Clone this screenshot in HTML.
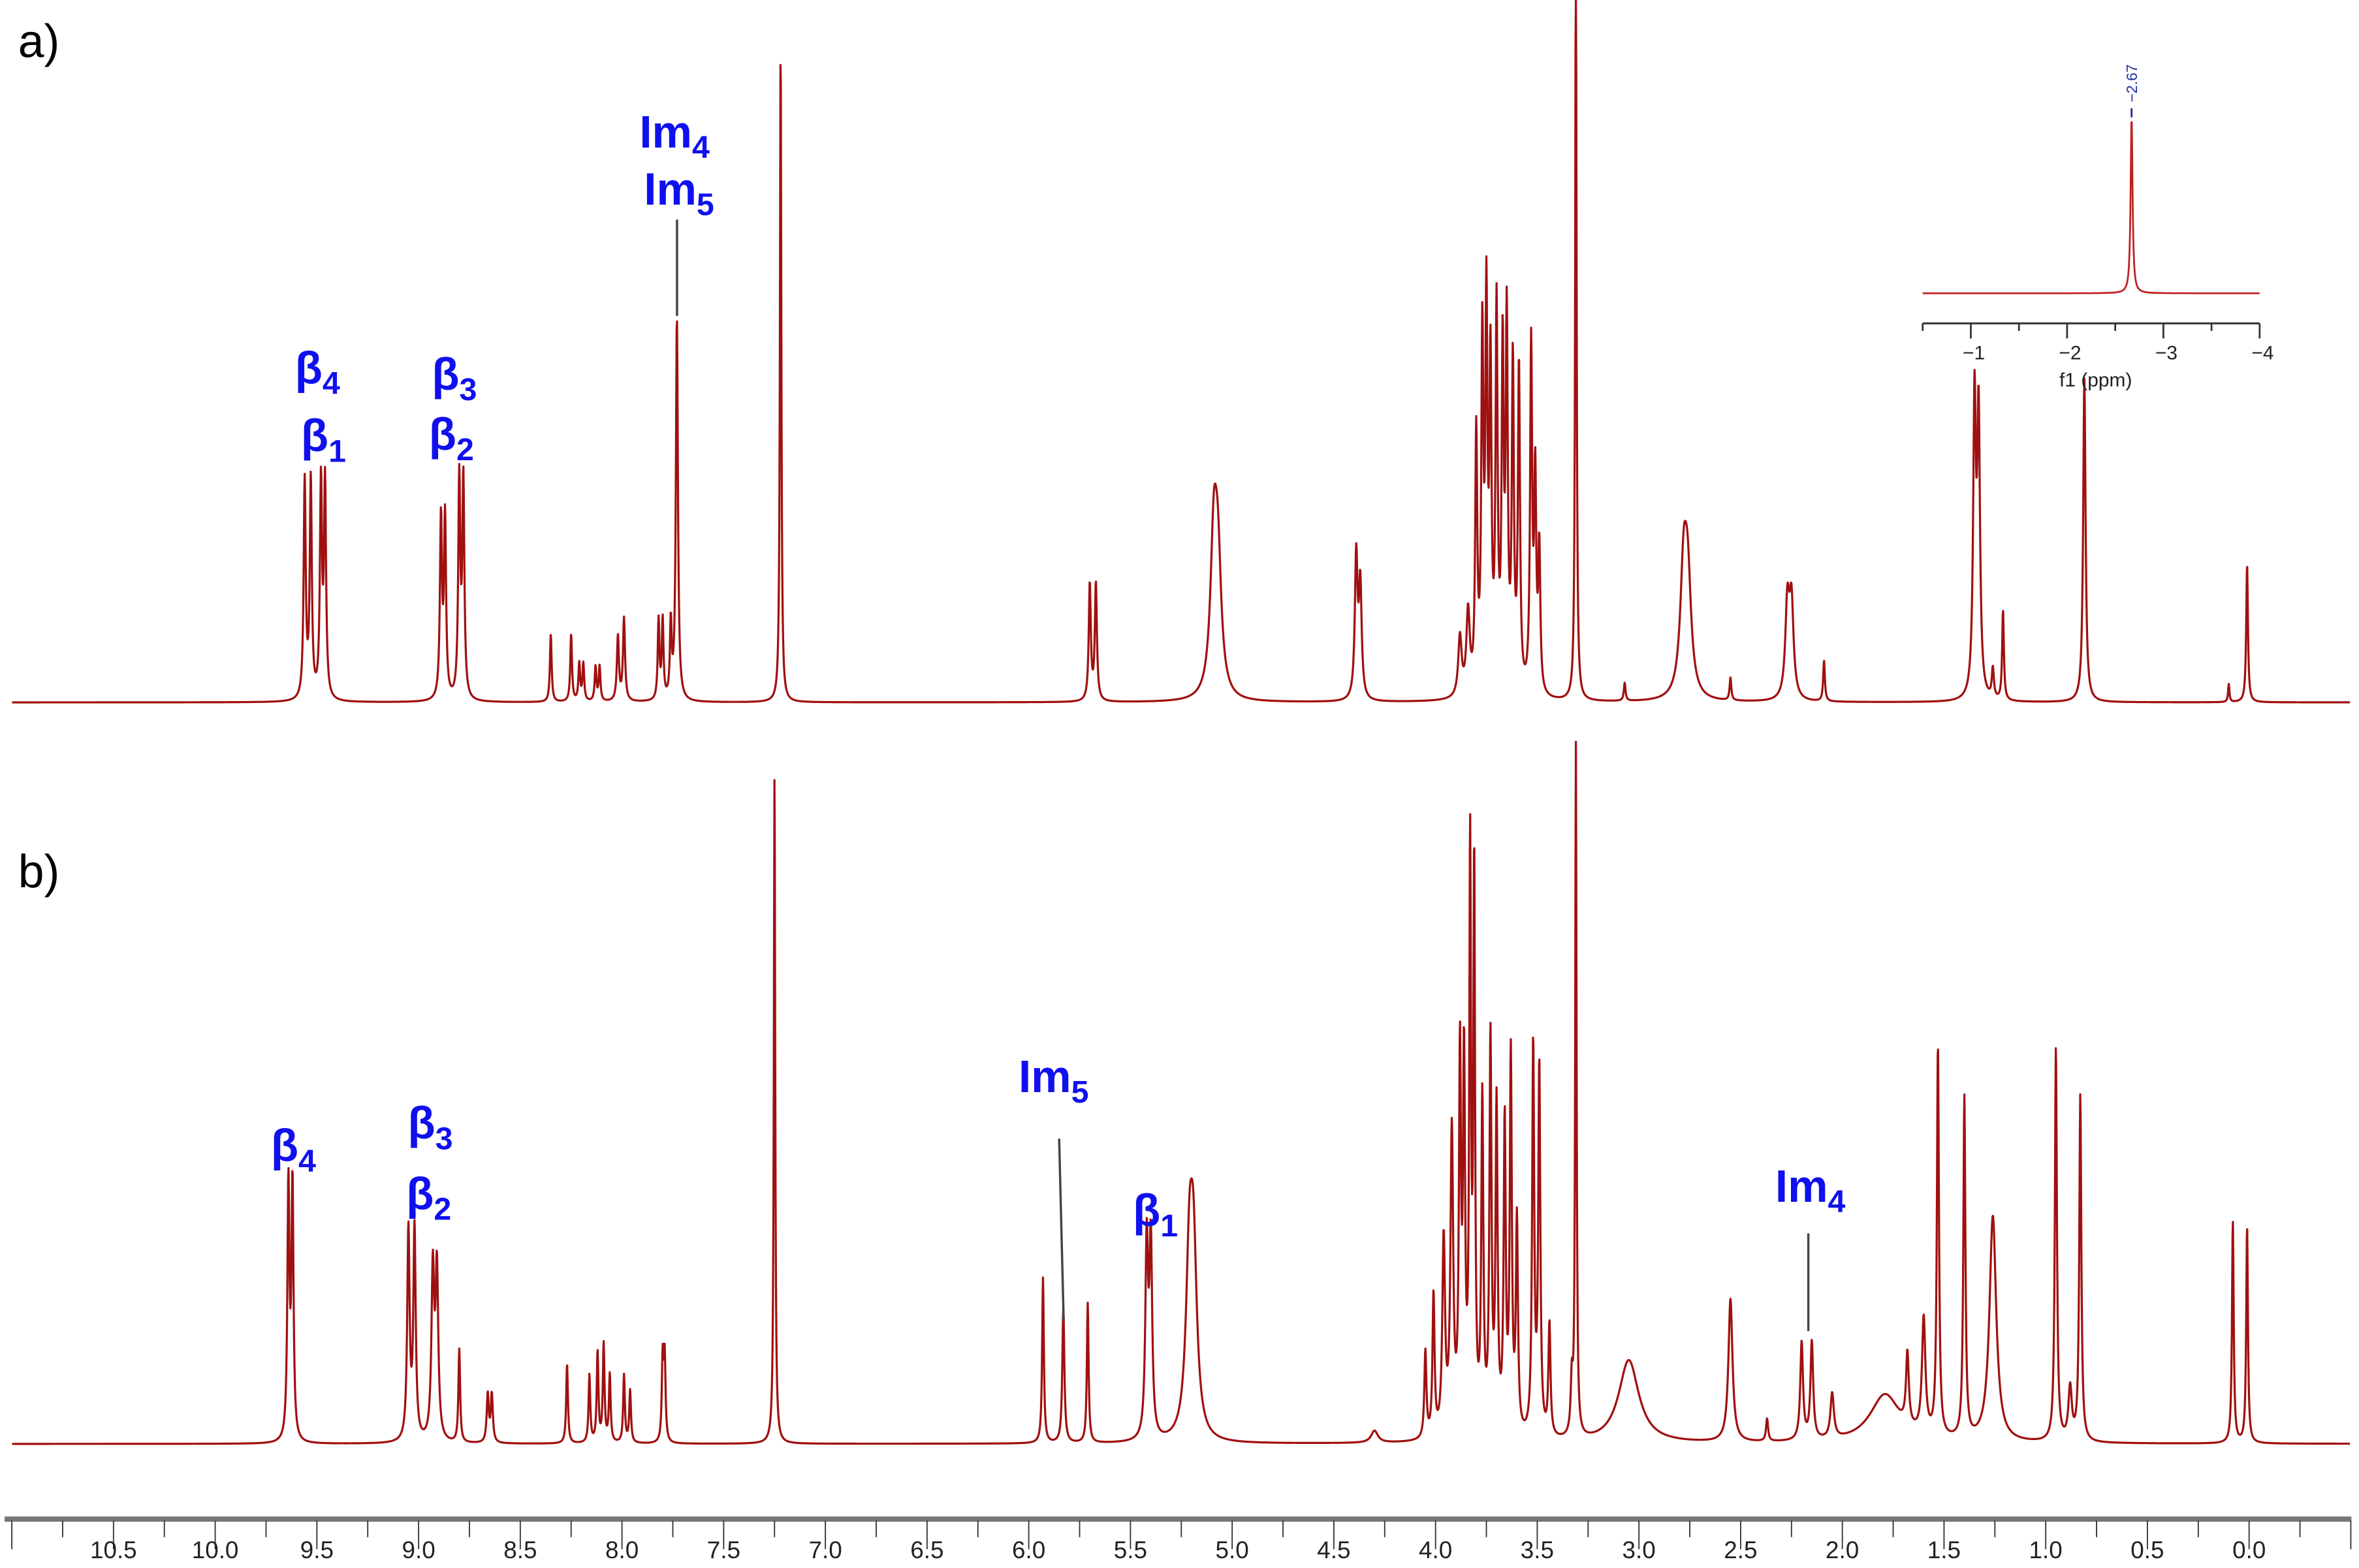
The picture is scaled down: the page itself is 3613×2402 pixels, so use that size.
<!DOCTYPE html>
<html><head><meta charset="utf-8"><style>
html,body{margin:0;padding:0;background:#fff}
svg{display:block}
text{font-family:"Liberation Sans",sans-serif}
.lab{fill:#1010ee;font-weight:bold;font-size:30px}
</style></head><body>
<svg id="chart" width="3613" height="2402" viewBox="0 0 1568 1042.5" xmlns="http://www.w3.org/2000/svg">
<g id="axis"></g>
<g id="specA"></g>
<g id="specB"></g>
<g id="inset"></g>
<text x="12" y="38" font-size="31">a)</text>
<text x="12" y="590" font-size="31">b)</text>
<g>
<text class="lab" x="425" y="98">Im<tspan font-size="21" dy="7">4</tspan></text>
<text class="lab" x="428" y="136">Im<tspan font-size="21" dy="7">5</tspan></text>
<line x1="450" y1="146" x2="450" y2="210" stroke="#444" stroke-width="1.5"/>
<text class="lab" x="196" y="255">β<tspan font-size="21" dy="7">4</tspan></text>
<text class="lab" x="200" y="300">β<tspan font-size="21" dy="7">1</tspan></text>
<text class="lab" x="287" y="259">β<tspan font-size="21" dy="7">3</tspan></text>
<text class="lab" x="285" y="299">β<tspan font-size="21" dy="7">2</tspan></text>
</g>
<g>
<text class="lab" x="180" y="772">β<tspan font-size="21" dy="7">4</tspan></text>
<text class="lab" x="271" y="757">β<tspan font-size="21" dy="7">3</tspan></text>
<text class="lab" x="270" y="804">β<tspan font-size="21" dy="7">2</tspan></text>
<text class="lab" x="677" y="726">Im<tspan font-size="21" dy="7">5</tspan></text>
<line x1="704" y1="757" x2="707" y2="878" stroke="#444" stroke-width="1.5"/>
<text class="lab" x="753" y="815">β<tspan font-size="21" dy="7">1</tspan></text>
<text class="lab" x="1180" y="799">Im<tspan font-size="21" dy="7">4</tspan></text>
<line x1="1202" y1="820" x2="1202" y2="885" stroke="#444" stroke-width="1.5"/>
</g>
</svg>
<script>
// panel a peaks: ppm, height (px above baseline), half width (ppm)
const aPpm = [9.56,9.53,9.48,9.46,8.89,8.87,8.80,8.78,8.35,8.25,8.21,8.19,8.13,8.11,8.02,7.99,7.82,7.80,7.76,7.73,7.22,5.70,5.67,5.09,5.07,4.39,4.37,3.88,3.84,3.80,3.77,3.75,3.73,3.70,3.67,3.65,3.62,3.59,3.53,3.51,3.49,3.31,3.07,2.78,2.76,2.55,2.27,2.25,2.09,1.35,1.33,1.26,1.21,0.81,0.10,0.01];
const aH   = [145,145,143,143,120,120,145,145,45,45,25,25,23,23,43,55,53,53,50,255,440,78,78,100,80,95,75,40,55,170,230,250,210,250,220,240,215,215,230,140,95,520,12,80,70,15,62,62,27,195,185,20,60,215,12,92];
const aW   = [.006,.006,.006,.006,.006,.006,.006,.006,.005,.005,.005,.005,.005,.005,.006,.006,.005,.005,.005,.006,.004,.006,.006,.02,.02,.008,.008,.01,.01,.006,.006,.006,.006,.006,.006,.006,.006,.006,.006,.006,.006,.004,.005,.02,.02,.005,.012,.012,.005,.008,.008,.006,.005,.007,.004,.005];
// panel b peaks
const bPpm = [9.64,9.62,9.05,9.02,8.93,8.91,8.80,8.66,8.64,8.27,8.16,8.12,8.09,8.06,7.99,7.96,7.80,7.79,7.25,5.93,5.83,5.71,5.42,5.40,5.21,5.19,4.30,4.05,4.01,3.96,3.92,3.88,3.86,3.83,3.81,3.77,3.73,3.70,3.66,3.63,3.60,3.52,3.49,3.44,3.33,3.31,3.05,2.55,2.37,2.20,2.15,2.05,1.79,1.68,1.60,1.53,1.40,1.26,0.95,0.88,0.83,0.08,0.01];
const bH   = [170,170,140,140,112,112,62,32,32,53,45,60,65,45,45,35,55,55,445,110,90,93,130,130,110,110,8,58,95,130,200,245,240,380,370,220,260,215,205,250,140,260,245,75,35,460,55,95,15,65,65,30,32,48,77,260,227,150,262,35,230,148,145];
const bW   = [.006,.006,.007,.007,.008,.008,.005,.006,.006,.005,.005,.005,.005,.005,.005,.005,.005,.005,.004,.005,.006,.005,.008,.008,.02,.02,.02,.006,.006,.008,.008,.006,.006,.005,.005,.006,.006,.006,.006,.006,.006,.006,.006,.006,.006,.004,.06,.012,.006,.008,.008,.01,.09,.008,.01,.006,.006,.02,.006,.01,.006,.005,.005];
// x axis ticks
const tickLabels = ["10.5","10.0","9.5","9.0","8.5","8.0","7.5","7.0","6.5","6.0","5.5","5.0","4.5","4.0","3.5","3.0","2.5","2.0","1.5","1.0","0.5","0.0"];
// inset
const insetPeakPpm = [-2.67];
const insetPeakH = [117];
const insetTicks = ["−1","−2","−3","−4"];

const NS="http://www.w3.org/2000/svg";
const xs = p => 1495 - p*135.2;
function mk(tag,attrs,parent){const e=document.createElementNS(NS,tag);for(const k in attrs)e.setAttribute(k,attrs[k]);parent.appendChild(e);return e;}

function spectrum(g,ppm,H,W,base,name){
  let d="";
  for(let x=8;x<=1562;x+=0.25){
    const p=(1495-x)/135.2;let y=0;
    for(let i=0;i<ppm.length;i++){const u=(p-ppm[i])/W[i];y+=H[i]/(1+u*u);}
    let yy=Math.max(base-y,0);
    d+=(d?"L":"M")+x.toFixed(2)+" "+yy.toFixed(2);
  }
  const pth=mk("path",{d:d,fill:"none",stroke:"#a01010","stroke-width":1.4,"stroke-linejoin":"round"},g);
  
  
}
spectrum(document.getElementById("specA"),aPpm,aH,aW,467,"spectrum-a-line");
spectrum(document.getElementById("specB"),bPpm,bH,bW,960,"spectrum-b-line");

// axis
const ax=document.getElementById("axis");
mk("line",{x1:3,y1:1010,x2:1563,y2:1010,stroke:"#777","stroke-width":3.5},ax);
for(let k=-2;k<=45;k++){
  const p=10.5-k*0.25;const x=xs(p);
  if(x<5||x>1563)continue;
  const major=(k%2===0);
  mk("line",{x1:x,y1:1011,x2:x,y2:major?1030:1022,stroke:"#333","stroke-width":0.8},ax);
}
tickLabels.forEach(t=>{
  const x=xs(parseFloat(t));
  const el=mk("text",{x:x,y:1036,"text-anchor":"middle","font-size":16,fill:"#222"},ax);
  el.textContent=t;
  
  
});

// inset
const ig=document.getElementById("inset");
const ix = p => 1278 + (-p-0.5)*64;
const ib=195;
let d="";
for(let x=1278;x<=1502;x+=0.25){
  const p=-((x-1278)/64+0.5);let y=0;
  for(let i=0;i<insetPeakPpm.length;i++){const u=(p-insetPeakPpm[i])/0.012;y+=insetPeakH[i]/(1+u*u);}
  d+=(d?"L":"M")+x.toFixed(2)+" "+(ib-y).toFixed(2);
}
const ip=mk("path",{d:d,fill:"none",stroke:"#c02020","stroke-width":1.2},ig);


insetPeakPpm.forEach((p,i)=>{
  const x=ix(p);const top=ib-insetPeakH[i];
  mk("line",{x1:x,y1:top-6,x2:x,y2:top,stroke:"#2020b0","stroke-width":1.2},ig);
  const t=mk("text",{x:0,y:0,"font-size":10,fill:"#2030a0",transform:`translate(${x+3.5},${top-10}) rotate(-90)`},ig);
  t.textContent="−"+Math.abs(p).toFixed(2);
  
  
});
mk("line",{x1:1278,y1:215,x2:1502,y2:215,stroke:"#333","stroke-width":1.3},ig);
for(let k=0;k<=7;k++){
  const x=1278+k*32;
  mk("line",{x1:x,y1:215,x2:x,y2:k%2===1||k===7?225:220,stroke:"#333","stroke-width":1.2},ig);
}
insetTicks.forEach((t,i)=>{
  const el=mk("text",{x:ix(-(i+1))+2,y:239,"text-anchor":"middle","font-size":13,fill:"#222"},ig);
  el.textContent=t;
  
  
});
const f1=mk("text",{x:1393,y:257,"text-anchor":"middle","font-size":13,fill:"#222"},ig);
f1.textContent="f1 (ppm)";


</script>
</body></html>
